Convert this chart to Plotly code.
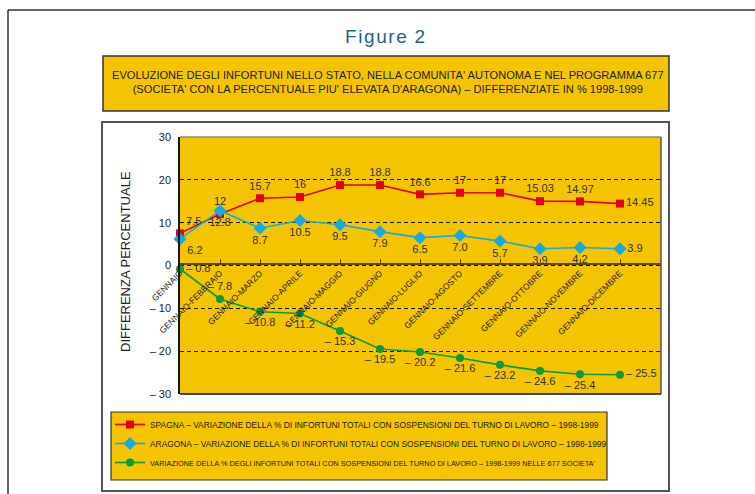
import plotly.graph_objects as go

# ---- data -------------------------------------------------------------
periodi = [
    "GENNAIO", "GENNAIO-FEBBRAIO", "GENNAIO-MARZO", "GENNAIO-APRILE",
    "GENNAIO-MAGGIO", "GENNAIO-GIUGNO", "GENNAIO-LUGLIO", "GENNAIO-AGOSTO",
    "GENNAIO-SETTEMBRE", "GENNAIO-OTTOBRE", "GENNAIO-NOVEMBRE", "GENNAIO-DICEMBRE",
]
spagna = [7.5, 12, 15.7, 16, 18.8, 18.8, 16.6, 17, 17, 15.03, 14.97, 14.45]
aragona = [6.2, 12.8, 8.7, 10.5, 9.5, 7.9, 6.5, 7.0, 5.7, 3.9, 4.2, 3.9]
societa_677 = [-0.8, -7.8, -10.8, -11.2, -15.3, -19.5, -20.2, -21.6, -23.2, -24.6, -25.4, -25.5]

y_ticks = [-30, -20, -10, 0, 10, 20, 30]
y_ticktext = ["\u2013 30", "\u2013 20", "\u2013 10", "0", "10", "20", "30"]

nomi_serie = [
    "SPAGNA \u2013 VARIAZIONE DELLA % DI INFORTUNI TOTALI CON SOSPENSIONI DEL TURNO DI LAVORO \u2013 1998-1999",
    "ARAGONA \u2013 VARIAZIONE DELLA % DI INFORTUNI TOTALI CON SOSPENSIONI DEL TURNO DI LAVORO \u2013 1998-1999",
    "VARIAZIONE DELLA % DEGLI INFORTUNI TOTALI CON SOSPENSIONI DEL TURNO DI LAVORO \u2013 1998-1999 NELLE 677 SOCIETA'",
]

# ---- page geometry (pixels -> paper fractions) ------------------------
W, H = 755, 494
def px(x):
    return x / W
def py(y):
    return 1 - y / H

YELLOW = "#F5C400"
SANS = "Liberation Sans, Arial, sans-serif"

x_idx = list(range(len(periodi)))
n = len(periodi)

fig = go.Figure()

# Spagna
fig.add_trace(go.Scatter(
    x=x_idx, y=spagna, name=nomi_serie[0], mode="lines+markers+text",
    line=dict(color="#E2001A", width=1.6),
    marker=dict(symbol="square", size=8, color="#E2001A"),
    text=[f"{v:g}" for v in spagna],
    textposition=["top right"] + ["top center"] * (n - 2) + ["middle right"],
    textfont=dict(family=SANS, size=11, color="#333333"),
    cliponaxis=False,
))
# Aragona
fig.add_trace(go.Scatter(
    x=x_idx, y=aragona, name=nomi_serie[1], mode="lines+markers+text",
    line=dict(color="#19A9E1", width=1.6),
    marker=dict(symbol="diamond", size=10, color="#19A9E1"),
    text=[f"{v:.1f}" for v in aragona],
    textposition=["bottom right"] + ["bottom center"] * (n - 2) + ["middle right"],
    textfont=dict(family=SANS, size=11, color="#333333"),
    cliponaxis=False,
))
# 677 società (longer caption set a little tighter so it fits the legend box)
fig.add_trace(go.Scatter(
    x=x_idx, y=societa_677,
    name=f'<span style="font-size:7.35px">{nomi_serie[2]}</span>',
    mode="lines+markers+text",
    line=dict(color="#0A9A44", width=1.6),
    marker=dict(symbol="circle", size=8, color="#0A9A44"),
    text=[f"\u2013 {abs(v):.1f}" for v in societa_677],
    textposition=["middle right", "top center"] + ["bottom center"] * (n - 3) + ["middle right"],
    textfont=dict(family=SANS, size=11, color="#333333"),
    cliponaxis=False,
))

# plot area in pixels
PL, PR, PT, PB = 180, 661, 137, 394
Y0 = 264  # pixel row of the zero line

shapes = [
    # outer page frame
    dict(type="line", xref="paper", yref="paper", x0=px(8), x1=px(760), y0=py(10), y1=py(10),
         line=dict(color="#333333", width=1.5), layer="below"),
    dict(type="line", xref="paper", yref="paper", x0=px(8), x1=px(8), y0=py(10), y1=py(500),
         line=dict(color="#333333", width=1.5), layer="below"),
    # heading box
    dict(type="rect", xref="paper", yref="paper", x0=px(103), x1=px(669), y0=py(56), y1=py(111),
         fillcolor=YELLOW, line=dict(color="#333333", width=1.5), layer="below"),
    # chart box
    dict(type="rect", xref="paper", yref="paper", x0=px(102), x1=px(669), y0=py(122), y1=py(491),
         line=dict(color="#555555", width=2), layer="below"),
    # legend box
    dict(type="rect", xref="paper", yref="paper", x0=px(111), x1=px(607), y0=py(412), y1=py(480),
         fillcolor=YELLOW, line=dict(color="#333333", width=1.2), layer="below"),
    # plot borders
    dict(type="line", xref="paper", yref="paper", x0=px(PL), x1=px(PR), y0=py(PT), y1=py(PT),
         line=dict(color="#8a8a8a", width=1.5), layer="between"),
    dict(type="line", xref="paper", yref="paper", x0=px(PR), x1=px(PR), y0=py(PT), y1=py(PB),
         line=dict(color="#555555", width=1.5), layer="between"),
    dict(type="line", xref="paper", yref="paper", x0=px(PL), x1=px(PR), y0=py(PB), y1=py(PB),
         line=dict(color="#111111", width=1.5), layer="between"),
]

annotations = [
    dict(text="F\u200ai\u200ag\u200au\u200ar\u200ae\u2009\u20092", xref="paper", yref="paper",
         x=px(385), y=py(36), xanchor="center", yanchor="middle", showarrow=False,
         font=dict(family=SANS, size=19, color="#1F5F8B")),
    dict(text="EVOLUZIONE DEGLI INFORTUNI NELLO STATO, NELLA COMUNITA' AUTONOMA E NEL PROGRAMMA 677<br>"
              "(SOCIETA' CON LA PERCENTUALE PIU' ELEVATA D'ARAGONA) \u2013 DIFFERENZIATE IN % 1998-1999",
         xref="paper", yref="paper", x=px(388), y=py(82), xanchor="center", yanchor="middle",
         showarrow=False, align="center",
         font=dict(family=SANS, size=11.1, color="#222222")),
    dict(text="DIFFERENZA PERCENTUALE", xref="paper", yref="paper", x=px(125), y=py(262),
         xanchor="center", yanchor="middle", textangle=-90, showarrow=False,
         font=dict(family=SANS, size=13, color="#222222")),
]

fig.update_layout(
    width=W, height=H,
    margin=dict(l=0, r=0, t=0, b=0, autoexpand=False),
    paper_bgcolor="white",
    plot_bgcolor=YELLOW,
    shapes=shapes,
    annotations=annotations,
    showlegend=True,
    legend=dict(
        x=px(110), y=py(410), xanchor="left", yanchor="top",
        bgcolor="rgba(0,0,0,0)", borderwidth=0,
        font=dict(family=SANS, size=8.4, color="#222222"),
        itemwidth=30, tracegroupgap=0,
    ),
    xaxis=dict(
        domain=[px(PL), px(PR)],
        range=[0, (PR - PL) / 40],
        anchor="free", position=py(Y0),
        tickmode="array", tickvals=x_idx, ticktext=periodi,
        tickangle=-45, tickfont=dict(family=SANS, size=8.5, color="#222222"),
        ticks="inside", ticklen=4, tickcolor="#5a4a10", tickwidth=1.2,
        showline=True, linecolor="#5a4a10", linewidth=2,
        showgrid=False, zeroline=False,
    ),
    yaxis=dict(
        domain=[py(PB), py(PT)],
        range=[-30, 30],
        tickmode="array", tickvals=y_ticks, ticktext=y_ticktext,
        tickfont=dict(family=SANS, size=11, color="#222222"),
        ticklabelstandoff=5,
        showline=True, linecolor="#111111", linewidth=1.5,
        showgrid=True, gridcolor="#111111", gridwidth=1, griddash="4px,3px",
        zeroline=False,
    ),
)

fig.write_html("out.html")
